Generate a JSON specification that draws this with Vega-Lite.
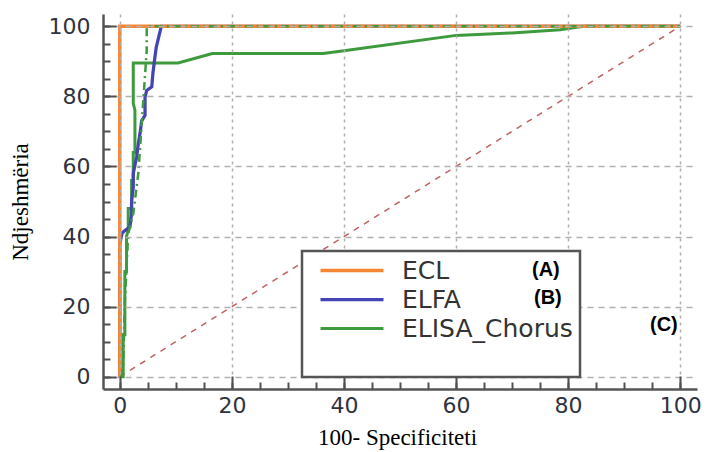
{
  "$schema": "https://vega.github.io/schema/vega-lite/v6.json",
  "width": 594,
  "height": 375,
  "autosize": {"type": "none"},
  "padding": {"left": 103, "top": 14, "right": 14, "bottom": 63},
  "background": "white",
  "config": {"view": {"stroke": null}},
  "datasets": {
    "roc": [
      {"series": "ELISA_Chorus", "tag": "(C)", "i": 0, "x": 0, "y": 0},
      {"series": "ELISA_Chorus", "tag": "(C)", "i": 1, "x": 0.6, "y": 0},
      {"series": "ELISA_Chorus", "tag": "(C)", "i": 2, "x": 0.6, "y": 12},
      {"series": "ELISA_Chorus", "tag": "(C)", "i": 3, "x": 0.9, "y": 12},
      {"series": "ELISA_Chorus", "tag": "(C)", "i": 4, "x": 0.9, "y": 30},
      {"series": "ELISA_Chorus", "tag": "(C)", "i": 5, "x": 1.2, "y": 30},
      {"series": "ELISA_Chorus", "tag": "(C)", "i": 6, "x": 1.2, "y": 40},
      {"series": "ELISA_Chorus", "tag": "(C)", "i": 7, "x": 1.5, "y": 42},
      {"series": "ELISA_Chorus", "tag": "(C)", "i": 8, "x": 1.5, "y": 48},
      {"series": "ELISA_Chorus", "tag": "(C)", "i": 9, "x": 2.1, "y": 48},
      {"series": "ELISA_Chorus", "tag": "(C)", "i": 10, "x": 2.1, "y": 56},
      {"series": "ELISA_Chorus", "tag": "(C)", "i": 11, "x": 2.4, "y": 56},
      {"series": "ELISA_Chorus", "tag": "(C)", "i": 12, "x": 2.4, "y": 64},
      {"series": "ELISA_Chorus", "tag": "(C)", "i": 13, "x": 2.7, "y": 64},
      {"series": "ELISA_Chorus", "tag": "(C)", "i": 14, "x": 2.7, "y": 76},
      {"series": "ELISA_Chorus", "tag": "(C)", "i": 15, "x": 2.4, "y": 78},
      {"series": "ELISA_Chorus", "tag": "(C)", "i": 16, "x": 2.4, "y": 89.5},
      {"series": "ELISA_Chorus", "tag": "(C)", "i": 17, "x": 10.4, "y": 89.5},
      {"series": "ELISA_Chorus", "tag": "(C)", "i": 18, "x": 16.5, "y": 92.2},
      {"series": "ELISA_Chorus", "tag": "(C)", "i": 19, "x": 36.3, "y": 92.2},
      {"series": "ELISA_Chorus", "tag": "(C)", "i": 20, "x": 40, "y": 93},
      {"series": "ELISA_Chorus", "tag": "(C)", "i": 21, "x": 60, "y": 97.4},
      {"series": "ELISA_Chorus", "tag": "(C)", "i": 22, "x": 70, "y": 98.1},
      {"series": "ELISA_Chorus", "tag": "(C)", "i": 23, "x": 78.6, "y": 99},
      {"series": "ELISA_Chorus", "tag": "(C)", "i": 24, "x": 81.5, "y": 99.7},
      {"series": "ELISA_Chorus", "tag": "(C)", "i": 25, "x": 83, "y": 100},
      {"series": "ELISA_Chorus", "tag": "(C)", "i": 26, "x": 100, "y": 100},
      {"series": "ELFA", "tag": "(B)", "i": 0, "x": 0, "y": 0},
      {"series": "ELFA", "tag": "(B)", "i": 1, "x": 0, "y": 38},
      {"series": "ELFA", "tag": "(B)", "i": 2, "x": 0.4, "y": 41},
      {"series": "ELFA", "tag": "(B)", "i": 3, "x": 0.9, "y": 41.7},
      {"series": "ELFA", "tag": "(B)", "i": 4, "x": 1.8, "y": 42.7},
      {"series": "ELFA", "tag": "(B)", "i": 5, "x": 2.1, "y": 46.5},
      {"series": "ELFA", "tag": "(B)", "i": 6, "x": 2.1, "y": 50},
      {"series": "ELFA", "tag": "(B)", "i": 7, "x": 2.4, "y": 54},
      {"series": "ELFA", "tag": "(B)", "i": 8, "x": 2.4, "y": 58},
      {"series": "ELFA", "tag": "(B)", "i": 9, "x": 3.0, "y": 62.7},
      {"series": "ELFA", "tag": "(B)", "i": 10, "x": 3.3, "y": 66.5},
      {"series": "ELFA", "tag": "(B)", "i": 11, "x": 3.6, "y": 69.3},
      {"series": "ELFA", "tag": "(B)", "i": 12, "x": 3.9, "y": 73},
      {"series": "ELFA", "tag": "(B)", "i": 13, "x": 4.5, "y": 74.6},
      {"series": "ELFA", "tag": "(B)", "i": 14, "x": 4.5, "y": 79.8},
      {"series": "ELFA", "tag": "(B)", "i": 15, "x": 4.8, "y": 81.7},
      {"series": "ELFA", "tag": "(B)", "i": 16, "x": 5.7, "y": 82.7},
      {"series": "ELFA", "tag": "(B)", "i": 17, "x": 5.9, "y": 86.5},
      {"series": "ELFA", "tag": "(B)", "i": 18, "x": 6.25, "y": 91},
      {"series": "ELFA", "tag": "(B)", "i": 19, "x": 6.5, "y": 94},
      {"series": "ELFA", "tag": "(B)", "i": 20, "x": 7.1, "y": 98},
      {"series": "ELFA", "tag": "(B)", "i": 21, "x": 7.4, "y": 100},
      {"series": "ELFA", "tag": "(B)", "i": 22, "x": 100, "y": 100},
      {"series": "ECL", "tag": "(A)", "i": 0, "x": 0, "y": 0},
      {"series": "ECL", "tag": "(A)", "i": 1, "x": 0, "y": 100},
      {"series": "ECL", "tag": "(A)", "i": 2, "x": 100, "y": 100}
    ],
    "smooth": [
      {"i": 0, "x": 0.3, "y": 0},
      {"i": 1, "x": 0.6, "y": 3},
      {"i": 2, "x": 0.9, "y": 21.7},
      {"i": 3, "x": 1.5, "y": 40.7},
      {"i": 4, "x": 2.4, "y": 46.5},
      {"i": 5, "x": 3.3, "y": 58},
      {"i": 6, "x": 4.2, "y": 79},
      {"i": 7, "x": 4.8, "y": 93},
      {"i": 8, "x": 4.8, "y": 100},
      {"i": 9, "x": 100, "y": 100}
    ],
    "diag": [
      {"x": 0, "y": 0},
      {"x": 100, "y": 100}
    ]
  },
  "layer": [
    {
      "data": {"name": "diag"},
      "mark": {"type": "point", "opacity": 0},
      "encoding": {
        "x": {
          "field": "x", "type": "quantitative",
          "scale": {"domain": [-3, 103], "nice": false, "zero": false},
          "axis": {"orient": "bottom", "offset": -7, "values": [0,5,10,15,20,25,30,35,40,45,50,55,60,65,70,75,80,85,90,95,100], "tickSize": 7, "tickWidth": 2, "tickColor": "#505050", "ticks": true, "labels": false, "domain": false, "grid": false, "title": null, "zindex": 2}
        },
        "y": {
          "field": "y", "type": "quantitative",
          "scale": {"domain": [-3.5, 103.5], "nice": false, "zero": false},
          "axis": {"orient": "left", "offset": -7, "values": [0,5,10,15,20,25,30,35,40,45,50,55,60,65,70,75,80,85,90,95,100], "tickSize": 7, "tickWidth": 2, "tickColor": "#505050", "ticks": true, "labels": false, "domain": false, "grid": false, "title": null, "zindex": 2}
        }
      }
    },
    {
      "data": {"name": "diag"},
      "mark": {"type": "point", "opacity": 0},
      "encoding": {
        "x": {
          "field": "x", "type": "quantitative",
          "scale": {"domain": [-3, 103], "nice": false, "zero": false},
          "axis": {"orient": "bottom", "offset": -13, "values": [0, 20, 40, 60, 80, 100], "tickSize": 13, "tickWidth": 2, "tickColor": "#505050", "ticks": true, "labels": false, "domain": false, "grid": false, "title": null, "zindex": 2}
        },
        "y": {
          "field": "y", "type": "quantitative",
          "scale": {"domain": [-3.5, 103.5], "nice": false, "zero": false},
          "axis": {"orient": "left", "offset": -13, "values": [0, 20, 40, 60, 80, 100], "tickSize": 13, "tickWidth": 2, "tickColor": "#505050", "ticks": true, "labels": false, "domain": false, "grid": false, "title": null, "zindex": 2}
        }
      }
    },
    {
      "layer": [
        {
          "data": {"name": "diag"},
          "mark": {"type": "line", "color": "#c06262", "strokeWidth": 1.5, "strokeDash": [6, 6]},
          "encoding": {
            "x": {"field": "x", "type": "quantitative", "scale": {"domain": [-3, 103], "nice": false, "zero": false}},
            "y": {"field": "y", "type": "quantitative", "scale": {"domain": [-3.5, 103.5], "nice": false, "zero": false}}
          }
        },
        {
          "data": {"name": "roc"},
          "mark": {"type": "line"},
          "encoding": {
            "x": {
              "field": "x", "type": "quantitative",
              "scale": {"domain": [-3, 103], "nice": false, "zero": false},
              "axis": {
                "orient": "bottom", "values": [0, 20, 40, 60, 80, 100],
                "ticks": false,
                "domainColor": "#555", "domainWidth": 2.5,
                "grid": true, "gridDash": [3, 4], "gridColor": "#b0b0b0", "gridWidth": 1.5,
                "labelFont": "DejaVu Sans", "labelFontSize": 22, "labelColor": "#2f3340", "labelPadding": 6,
                "title": "100- Specificiteti", "titleFont": "Liberation Serif", "titleFontSize": 23,
                "titleFontWeight": "normal", "titleColor": "black",
                "titleX": 294, "titleY": 48, "titleBaseline": "middle", "titleAlign": "center",
                "zindex": 1
              }
            },
            "y": {
              "field": "y", "type": "quantitative",
              "scale": {"domain": [-3.5, 103.5], "nice": false, "zero": false},
              "axis": {
                "orient": "left", "values": [0, 20, 40, 60, 80, 100],
                "ticks": false,
                "domainColor": "#555", "domainWidth": 2.5,
                "grid": true, "gridDash": [6, 5], "gridColor": "#b0b0b0", "gridWidth": 1.5,
                "labelFont": "DejaVu Sans", "labelFontSize": 22, "labelColor": "#2f3340", "labelPadding": 13,
                "title": "Ndjeshmëria", "titleFont": "Liberation Serif", "titleFontSize": 23,
                "titleFontWeight": "normal", "titleColor": "black",
                "titleX": -83, "titleY": 187.5, "titleBaseline": "middle", "titleAlign": "center", "titleAngle": -90,
                "zindex": 1
              }
            },
            "color": {
              "field": "series", "type": "nominal",
              "scale": {"domain": ["ECL", "ELFA", "ELISA_Chorus"], "range": ["#f58634", "#4444b4", "#3d9a3d"]},
              "legend": {
                "orient": "none", "legendX": 199, "legendY": 237,
                "title": "\u00a0\u00a0\u00a0\u00a0\u00a0\u00a0\u00a0\u00a0\u00a0\u00a0\u00a0\u00a0\u00a0\u00a0\u00a0\u00a0\u00a0\u00a0\u00a0\u00a0\u00a0\u00a0\u00a0\u00a0\u00a0\u00a0\u00a0\u00a0\u00a0\u00a0\u00a0\u00a0\u00a0\u00a0\u00a0\u00a0\u00a0\u00a0\u00a0\u00a0\u00a0\u00a0\u00a0\u00a0\u00a0\u00a0\u00a0\u00a0\u00a0\u00a0\u00a0\u00a0\u00a0\u00a0\u00a0\u00a0\u00a0\u00a0\u00a0\u00a0",
                "titleFont": "DejaVu Sans", "titleColor": "white", "titleOrient": "bottom", "titleFontSize": 20, "titlePadding": 8, "titleLimit": 367,
                "symbolType": "M-3,0H3", "symbolSize": 441, "symbolStrokeWidth": 2,
                "symbolOffset": 30.5, "labelOffset": 37.5,
                "labelFont": "DejaVu Sans", "labelFontSize": 25, "labelColor": "#333", "labelLimit": 400,
                "rowPadding": 3, "padding": 7,
                "strokeColor": "#555", "fillColor": "white", "zindex": 1,
                "encode": {"legend": {"update": {"strokeWidth": {"value": 2.5}}}}
              }
            },
            "opacity": {
              "field": "tag", "type": "nominal",
              "scale": {"range": [1, 1, 1]},
              "legend": {
                "orient": "none", "legendX": 409, "legendY": 246,
                "title": null,
                "symbolType": "circle", "symbolSize": 1, "symbolOpacity": 0, "symbolStrokeWidth": 0,
                "symbolOffset": 0, "labelOffset": 0, "padding": 0, "rowPadding": 7.5,
                "labelFont": "Liberation Sans", "labelFontSize": 20, "labelFontWeight": "bold",
                "labelColor": "black", "labelLimit": 400,
                "encode": {"labels": {"update": {"dx": {"signal": "datum.label == '(C)' ? 118 : datum.label == '(B)' ? 2 : 0"}}}},
                "zindex": 2
              }
            },
            "strokeWidth": {
              "field": "series", "type": "nominal",
              "scale": {"domain": ["ECL", "ELFA", "ELISA_Chorus"], "range": [3.5, 3, 2]},
              "legend": null
            },
            "order": {"field": "i", "type": "quantitative"}
          }
        },
        {
          "data": {"name": "smooth"},
          "mark": {"type": "line", "color": "#3d9a3d", "strokeWidth": 2.5, "strokeDash": [8, 4, 2, 4]},
          "encoding": {
            "x": {"field": "x", "type": "quantitative", "scale": {"domain": [-3, 103], "nice": false, "zero": false}},
            "y": {"field": "y", "type": "quantitative", "scale": {"domain": [-3.5, 103.5], "nice": false, "zero": false}},
            "order": {"field": "i", "type": "quantitative"}
          }
        }
      ]
    }
  ],
  "resolve": {"axis": {"x": "independent", "y": "independent"}}
}
